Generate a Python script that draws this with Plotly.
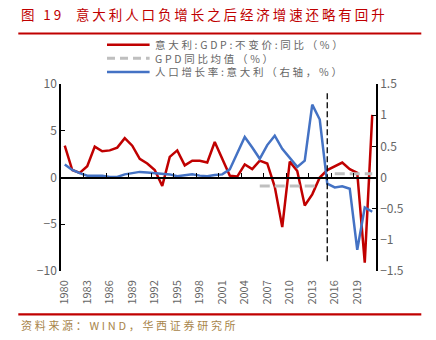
import plotly.graph_objects as go

# ---------------- data ----------------
years = list(range(1980, 2022))
gdp_growth = [3.4, 0.8, 0.5, 1.2, 3.3, 2.8, 2.9, 3.2, 4.2, 3.4,
              2.0, 1.5, 0.8, -0.9, 2.2, 2.9, 1.3, 1.8, 1.8, 1.6,
              3.8, 2.0, 0.2, 0.1, 1.4, 0.9, 1.8, 1.5, -1.0, -5.3,
              1.7, 0.7, -3.0, -1.8, 0.0, 0.8, 1.2, 1.6, 0.9, 0.5,
              -9.1, 6.7]
pop_growth = [0.21, 0.12, 0.07, 0.03, 0.03, 0.03, 0.01, 0.01, 0.05, 0.07,
              0.09, 0.08, 0.07, 0.06, 0.05, 0.02, 0.03, 0.05, 0.03, 0.02,
              0.04, 0.05, 0.13, 0.38, 0.65, 0.48, 0.30, 0.52, 0.67, 0.46,
              0.31, 0.17, 0.27, 1.17, 0.93, -0.10, -0.16, -0.14, -0.18, -1.16,
              -0.48, -0.55]
mean_years_before = [2006, 2014]
mean_value_before = [-0.9, -0.9]
mean_years_after = [2016, 2021]
mean_value_after = [0.4, 0.4]
divider_years = [2015, 2015]
divider_span = [9, -9]
tick_years = years[::3]
tick_labels = [str(y) for y in tick_years]
series_names = ["意大利:GDP:不变价:同比（%）", "GPD同比均值（%）", "人口增长率:意大利（右轴，%）"]
title_text = "图 19  意大利人口负增长之后经济增速还略有回升"
source_text = "资料来源：WIND，华西证券研究所"

# ---------------- style ----------------
RED = "#c00000"
BLUE = "#4472c4"
GRAY = "#bfbfbf"
TXT = "#666666"
FONT = "Noto Sans CJK SC, Liberation Sans, sans-serif"
W, H = 436, 340
ML, MR, MT, MB = 60.7, 60.3, 84, 69
PW, PH = W - ML - MR, H - MT - MB


def px(x):
    return (x - ML) / PW


def py(y):
    return (H - MB - y) / PH


def spaced(text, sp):
    return f'<span style="letter-spacing:{sp}px">{text}</span>'


fig = go.Figure()
fig.add_trace(go.Scatter(x=years, y=gdp_growth, mode="lines", name=series_names[0],
                         line=dict(color=RED, width=2.5), showlegend=False))
fig.add_trace(go.Scatter(x=mean_years_before, y=mean_value_before, mode="lines",
                         name=series_names[1], line=dict(color=GRAY, width=3, dash="10px,5px"),
                         showlegend=False))
fig.add_trace(go.Scatter(x=mean_years_after, y=mean_value_after, mode="lines",
                         name=series_names[1], line=dict(color=GRAY, width=3, dash="10px,5px"),
                         showlegend=False))
fig.add_trace(go.Scatter(x=years, y=pop_growth, mode="lines", name=series_names[2],
                         line=dict(color=BLUE, width=2.5), yaxis="y2", showlegend=False))
fig.add_trace(go.Scatter(x=divider_years, y=divider_span, mode="lines", xaxis="x2",
                         line=dict(color="black", width=1.3, dash="6px,3px"), showlegend=False))

fig.update_layout(
    width=W, height=H,
    margin=dict(l=ML, r=MR, t=MT, b=MB, pad=0),
    paper_bgcolor="white", plot_bgcolor="white",
    font=dict(family=FONT, color=TXT),
    xaxis=dict(range=[1979.5, 2021.5], tickmode="array", tickvals=tick_years,
               ticktext=tick_labels, tickangle=-90, showline=False, ticks="",
               showgrid=False, zeroline=False, tickfont=dict(size=11, color=TXT),
               ticklabelstandoff=6),
    xaxis2=dict(range=[1979.5, 2021.5], overlaying="x", anchor="free", position=0.5,
                side="bottom", tickmode="linear", tick0=1979.5, dtick=3,
                ticks="inside", ticklen=4, tickcolor="black", tickwidth=1,
                showticklabels=False, showline=True, linecolor="black", linewidth=1.5,
                showgrid=False, zeroline=False),
    yaxis=dict(range=[-10, 10], dtick=5, ticks="inside", ticklen=4, tickcolor="black",
               showline=True, linecolor="black", linewidth=1.5, showgrid=False,
               zeroline=False, tickfont=dict(size=12, color=TXT)),
    yaxis2=dict(range=[-1.5, 1.5], dtick=0.5, overlaying="y", side="right",
                ticks="inside", ticklen=4, tickcolor="black", showline=True,
                linecolor="black", linewidth=1.5, showgrid=False, zeroline=False,
                tickfont=dict(size=12, color=TXT)),
    showlegend=False,
)

# title, rules and source
fig.add_annotation(text=spaced(title_text, 2.9), xref="paper", yref="paper", x=px(19), y=py(14),
                   xanchor="left", yanchor="middle", showarrow=False,
                   font=dict(size=13.5, color=RED, family=FONT))
for yy in (33.5, 314.3):
    fig.add_shape(type="line", xref="paper", yref="paper", x0=px(18), x1=px(421),
                  y0=py(yy), y1=py(yy), line=dict(color=RED, width=2.2))
fig.add_annotation(text=spaced(source_text, 2.7), xref="paper", yref="paper", x=px(19), y=py(325),
                   xanchor="left", yanchor="middle", showarrow=False,
                   font=dict(size=11, color="#a8854a", family=FONT))

# legend (drawn manually to keep the compact row spacing)
legend_rows = [44.7, 58.3, 71.9]
legend_styles = [dict(color=RED, width=2.5), dict(color=GRAY, width=3, dash="8px,5px"),
                 dict(color=BLUE, width=2.5)]
for ry, st in zip(legend_rows, legend_styles):
    fig.add_shape(type="line", xref="paper", yref="paper", x0=px(106.7), x1=px(149.3),
                  y0=py(ry), y1=py(ry), line=st)
fig.add_annotation(text="<br>".join(spaced(n, 2.7) for n in series_names),
                   xref="paper", yref="paper", x=px(153), y=py(legend_rows[1]),
                   xanchor="left", yanchor="middle", align="left", showarrow=False,
                   font=dict(size=10.5, color=TXT, family=FONT))

fig.write_html("out.html")
